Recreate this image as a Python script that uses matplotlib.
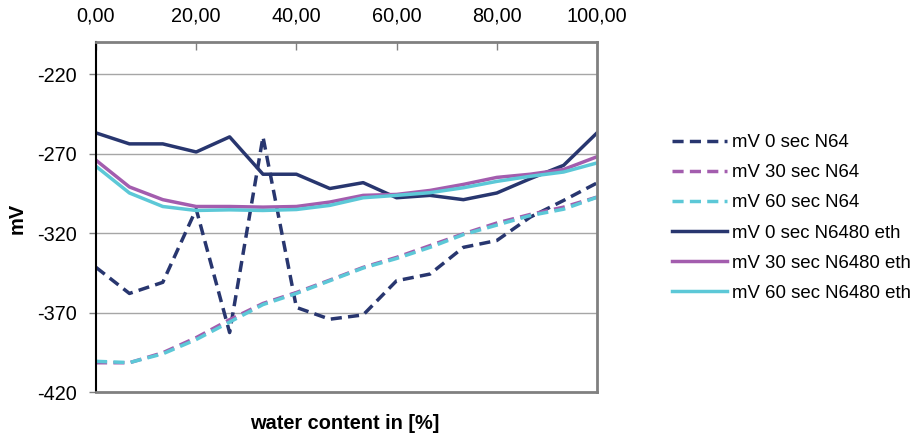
import matplotlib
matplotlib.use("Agg")
import matplotlib.pyplot as plt
import numpy as np

plt.rcParams['font.family'] = ['Liberation Sans', 'DejaVu Sans']
plt.rcParams['axes.unicode_minus'] = False

water = [0.0, 6.67, 13.33, 20.0, 26.67, 33.33, 40.0, 46.67, 53.33, 60.0,
         66.67, 73.33, 80.0, 86.67, 93.33, 100.0]

mv0_n64 = [-341.6, -358.0, -351.0, -305.0, -382.6, -259.5, -366.8, -374.2,
           -371.5, -350.0, -345.8, -329.0, -324.7, -310.0, -299.5, -288.5]
mv30_n64 = [-401.6, -401.6, -395.3, -385.8, -374.5, -364.3, -357.4, -349.6,
            -341.6, -335.3, -327.9, -320.5, -313.7, -308.3, -303.7, -297.4]
mv60_n64 = [-400.7, -401.5, -396.0, -387.0, -376.0, -365.0, -358.0, -350.0,
            -342.0, -336.0, -329.0, -321.0, -315.0, -309.0, -305.0, -297.5]
mv0_n6480 = [-257.0, -263.9, -263.9, -269.0, -259.5, -283.0, -283.0, -292.0,
             -288.3, -297.8, -296.3, -299.0, -294.8, -285.8, -277.4, -257.0]
mv30_n6480 = [-274.2, -291.0, -299.0, -303.3, -303.3, -303.7, -303.3, -300.5,
              -296.3, -295.7, -293.2, -289.4, -285.0, -283.0, -280.0, -272.0]
mv60_n6480 = [-278.0, -294.8, -303.3, -305.8, -305.4, -305.8, -305.2, -302.6,
              -297.8, -296.3, -294.6, -291.5, -287.5, -284.3, -281.6, -275.9]

labels = ["mV 0 sec N64", "mV 30 sec N64", "mV 60 sec N64",
          "mV 0 sec N6480 eth", "mV 30 sec N6480 eth", "mV 60 sec N6480 eth"]
navy = '#28366F'
purple = '#A35DAE'
cyan = '#5CC8D7'

fig = plt.figure(figsize=(9.2, 4.36), dpi=100)
ax = fig.add_axes([96/920, 1-392/436, (597-96)/920, (392-42.3)/436])

lw = 2.5
dash = (3.2, 1.8)
series = [
    (mv0_n64, navy, True),
    (mv30_n64, purple, True),
    (mv60_n64, cyan, True),
    (mv0_n6480, navy, False),
    (mv30_n6480, purple, False),
    (mv60_n6480, cyan, False),
]
for (vals, col, dashed), lab in zip(series, labels):
    if dashed:
        ax.plot(water, vals, color=col, lw=lw, dashes=dash, label=lab,
                solid_joinstyle='round')
    else:
        ax.plot(water, vals, color=col, lw=lw, label=lab,
                solid_joinstyle='round')

ax.set_xlim(0, 100)
ax.set_ylim(-420, -200)
ax.set_xticks(np.arange(0, 101, 20))
ax.set_xticklabels([f"{v:.2f}".replace('.', ',') for v in np.arange(0, 101, 20)])
ax.set_yticks([-420, -370, -320, -270, -220])
ax.xaxis.tick_top()
ax.tick_params(axis='x', direction='in', length=6, width=1, color='#808080',
               pad=12, labelsize=14.3)
ax.tick_params(axis='y', direction='out', length=5, width=1, color='#808080',
               pad=9, labelsize=14.3)
for y in [-370, -320, -270, -220]:
    ax.axhline(y, color='#A6A6A6', lw=1, zorder=0)

ax.spines['left'].set_color('black')
ax.spines['left'].set_linewidth(1.5)
for s in ['top', 'right', 'bottom']:
    ax.spines[s].set_color('#808080')
    ax.spines[s].set_linewidth(2)

fig.text(345/920, 1-423/436, "water content in [%]", ha='center', va='center',
         fontsize=14.4, fontweight='bold')
fig.text(17/920, 1-218/436, "mV", ha='center', va='center', rotation=90,
         fontsize=14.4, fontweight='bold')

leg = fig.legend(loc='center left', bbox_to_anchor=(672/920, 0.5),
                 bbox_transform=fig.transFigure, frameon=False, fontsize=13.4,
                 handlelength=2.95, handletextpad=0.27, labelspacing=0.7,
                 borderpad=0, borderaxespad=0)

fig.savefig("out.png", dpi=100)
